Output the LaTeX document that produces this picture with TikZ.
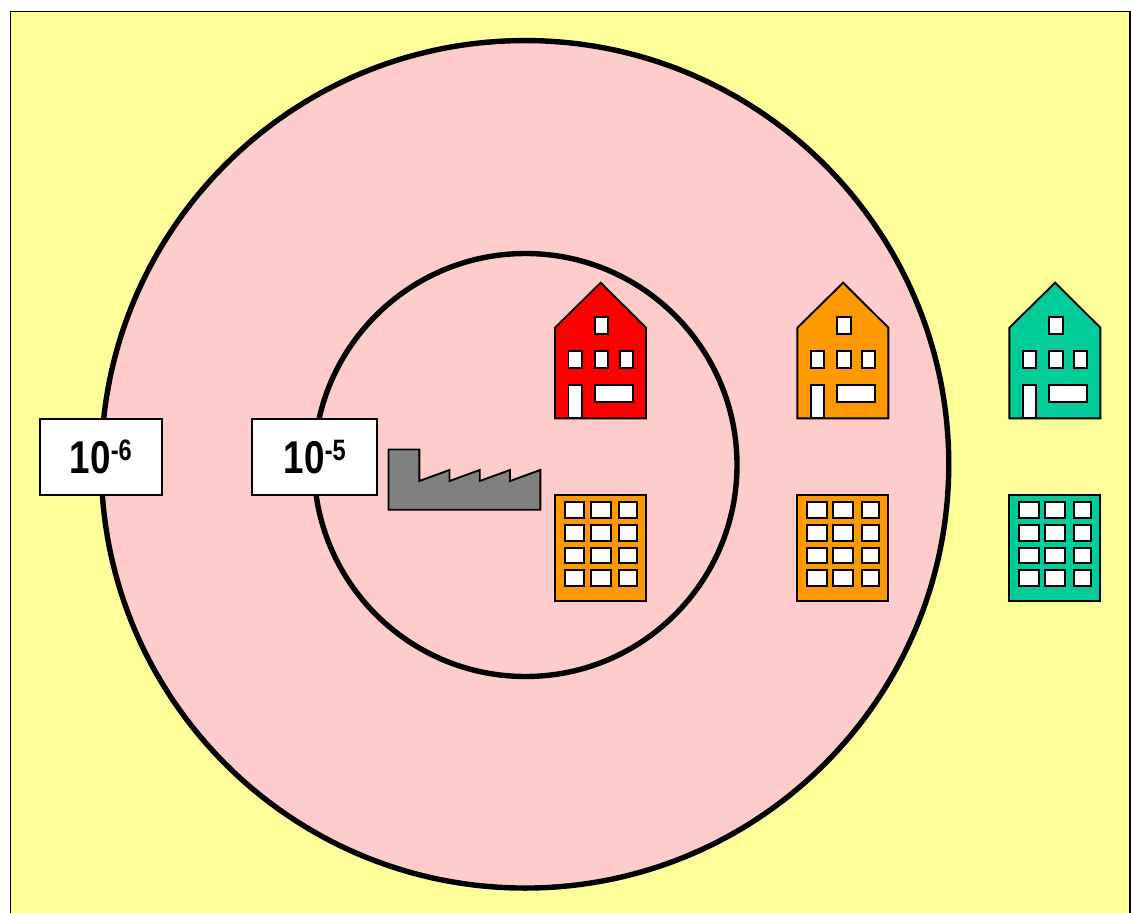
\documentclass[tikz,border=0pt]{standalone}
\usepackage{fontspec}
\newfontfamily\labelfont[FakeStretch=0.8]{Liberation Sans Bold}
\definecolor{bgyellow}{HTML}{FFFF99}
\definecolor{ringpink}{HTML}{FFCCCC}
\definecolor{hotred}{HTML}{FF0000}
\definecolor{warmorange}{HTML}{FF9900}
\definecolor{safegreen}{HTML}{00CC99}
\definecolor{factorygray}{HTML}{808080}
\newcommand{\risklabel}[1]{{\labelfont\fontsize{46}{46}\selectfont 10\raisebox{13.5pt}{\fontsize{29.5}{29.5}\selectfont -#1}}}
\tikzset{
  thin line/.style={draw=black,line width=1.9pt,line join=miter},
  ring/.style={circle,draw=black,line width=5.4pt,fill=ringpink,outer sep=0pt,inner sep=0pt},
  labelbox/.style={thin line,fill=white,outer sep=0pt,inner sep=0pt,minimum width=125pt,minimum height=75.7pt,text=black},
  win/.style={thin line,fill=white},
  pics/house/.style={code={
    \path[thin line,fill=#1] (555,418.4) -- (555,327.7) -- (600.7,282.7) -- (646,327.7) -- (646,418.4) -- cycle;
    \path[win] (594.9,316.9) rectangle (608.3,334);
    \path[win] (568.5,350.9) rectangle (582,368);
    \path[win] (594.9,350.9) rectangle (608.3,368);
    \path[win] (619.7,350.9) rectangle (633,368);
    \path[win] (568.5,385) rectangle (582,418.4);
    \path[win] (594.9,385) rectangle (633,402);
  }},
  pics/flats/.style={code={
    \path[thin line,fill=#1] (555,495) rectangle (646,600.7);
    \foreach \ya/\yb in {502/517.7,524.7/540.7,547.7/563.3,570.3/586}{
      \path[win] (564.7,\ya) rectangle (584.3,\yb);
      \path[win] (590.7,\ya) rectangle (610.7,\yb);
      \path[win] (619.3,\ya) rectangle (637,\yb);
    }
  }},
}
\begin{document}
\begin{tikzpicture}[x=1pt,y=-1pt]
  \useasboundingbox (0,0) rectangle (1131,912);
  \clip (0,0) rectangle (1131,912);
  \path[thin line,fill=bgyellow] (10.5,11.5) rectangle (1130,930);
  \node[ring,minimum size=847.5pt] (outer) at (525,464.3) {};
  \node[ring,minimum size=423pt] (inner) at (525.5,465) {};
  \path[thin line,fill=factorygray]
    (388.5,449.5) -- (419.3,449.5) -- (419.3,481) -- (449.5,470) -- (449.5,481)
    -- (479.7,470) -- (479.7,481) -- (510,470) -- (510,481) -- (540.3,470)
    -- (540.3,509.7) -- (388.5,509.7) -- cycle;
  \pic at (0,0) {house=hotred};
  \pic at (242.4,0) {house=warmorange};
  \pic at (454.4,0) {house=safegreen};
  \pic at (0,0) {flats=warmorange};
  \pic at (242.4,0) {flats=warmorange};
  \pic at (454.4,0) {flats=safegreen};
  \node[labelbox,minimum width=121.7pt] (risksix) at (100.85,456.9) {\risklabel{6}};
  \node[labelbox] (riskfive) at (314.85,456.9) {\risklabel{5}};
\end{tikzpicture}
\end{document}
